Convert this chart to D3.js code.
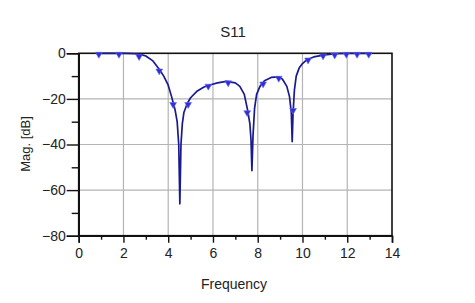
<!DOCTYPE html>
<html>
<head>
<meta charset="utf-8">
<script src="https://cdn.jsdelivr.net/npm/d3@7"></script>
<style>
  body { margin: 0; background: #fff; }
  svg { display: block; font-family: "Liberation Sans", Arial, sans-serif; }
</style>
</head>
<body>
<div id="chart"></div>
<script>
// S11 magnitude curve (freq, dB)
const freq = [0.8, 1.5, 2.0, 2.5, 2.8, 3.0, 3.3, 3.6, 3.8, 4.0, 4.15, 4.3, 4.4, 4.47, 4.52, 4.57, 4.63, 4.7, 4.85, 5.0,
  5.3, 5.6, 5.9, 6.2, 6.6, 7.0, 7.2, 7.4, 7.55, 7.65, 7.7, 7.74, 7.79, 7.86, 7.95, 8.1, 8.3, 8.6, 8.9, 9.1,
  9.3, 9.42, 9.5, 9.54, 9.58, 9.64, 9.72, 9.85, 10.0, 10.2, 10.5, 11.0, 11.5, 12.0, 12.5, 13.1];
const mag = [0, 0, 0, -0.2, -0.6, -1.2, -3.2, -7, -10, -14, -19, -24.5, -30, -40, -66, -40, -31, -26, -22, -19.5,
  -16.5, -14.8, -13.8, -13, -12.3, -13, -14.5, -18, -25, -31, -38, -51.5, -36, -24, -18, -14.5, -12, -10.6, -10.3, -11.3,
  -14.5, -19, -26, -38.8, -26, -16, -10, -6.5, -4.5, -2.8, -1.6, -0.7, -0.2, 0, 0, 0];

// triangle markers
const markerFreq = [0.9, 1.8, 2.7, 3.6, 4.22, 4.89, 5.79, 6.68, 7.53, 8.24, 8.94, 9.58, 10.25, 10.92, 11.44, 11.96, 12.44, 12.96];
const markerMag = [0, 0, -1, -7.3, -22, -22, -14, -12.5, -25.6, -13, -10.5, -24.6, -2.5, -0.7, -0.3, 0, 0, 0];

const xTicks = [0, 2, 4, 6, 8, 10, 12, 14];
const yTicks = [0, -20, -40, -60, -80];

const W = 475, H = 303;
const m = { left: 78.7, right: 83, top: 53.3, bottom: 67.3 };

const svg = d3.select("#chart").append("svg").attr("width", W).attr("height", H);

const x = d3.scaleLinear().domain([0, 14]).range([m.left, W - m.right]);
const y = d3.scaleLinear().domain([-80, 0]).range([H - m.bottom, m.top]);

// grid
svg.append("g").selectAll("line").data(xTicks.slice(1, -1)).join("line")
  .attr("x1", d => x(d)).attr("x2", d => x(d))
  .attr("y1", y(0)).attr("y2", y(-80))
  .attr("stroke", "#b4b4b4").attr("stroke-width", 1.2);
svg.append("g").selectAll("line").data(yTicks.slice(1, -1)).join("line")
  .attr("x1", x(0)).attr("x2", x(14))
  .attr("y1", d => y(d)).attr("y2", d => y(d))
  .attr("stroke", "#b4b4b4").attr("stroke-width", 1.2);

// frame
svg.append("rect")
  .attr("x", x(0)).attr("y", y(0))
  .attr("width", x(14) - x(0)).attr("height", y(-80) - y(0))
  .attr("fill", "none").attr("stroke", "#111").attr("stroke-width", 1.6);

// axes
svg.append("g").attr("transform", `translate(0,${y(-80)})`)
  .call(d3.axisBottom(x).tickValues(xTicks).tickSize(7).tickPadding(5));
svg.append("g").attr("transform", `translate(0,${y(-80)})`)
  .call(d3.axisBottom(x).tickValues(d3.range(1, 14, 2)).tickSize(4).tickFormat(""))
  .call(g => g.select(".domain").remove());
svg.append("g").attr("transform", `translate(${x(0)},0)`)
  .call(d3.axisLeft(y).tickValues(yTicks).tickSize(12).tickPadding(1));
svg.append("g").attr("transform", `translate(${x(0)},0)`)
  .call(d3.axisLeft(y).tickValues(d3.range(-70, 0, 20)).tickSize(7).tickFormat(""))
  .call(g => g.select(".domain").remove());

svg.selectAll(".tick line").attr("stroke", "#111").attr("stroke-width", 1.4);
svg.selectAll(".domain").attr("stroke", "#111").attr("stroke-width", 1.6);
svg.selectAll(".tick text").attr("font-size", 14).attr("fill", "#222")
  .attr("font-family", "'Liberation Sans', Arial, sans-serif");

// curve
const pts = freq.map((f, i) => [f, mag[i]]);
svg.append("path").datum(pts)
  .attr("fill", "none").attr("stroke", "#1a1a90").attr("stroke-width", 1.7)
  .attr("stroke-linejoin", "round")
  .attr("d", d3.line().x(d => x(d[0])).y(d => y(d[1])));

// markers
const tri = d3.symbol().type(d3.symbolTriangle).size(20);
svg.append("g").selectAll("path").data(markerFreq.map((f, i) => [f, markerMag[i]])).join("path")
  .attr("d", tri)
  .attr("transform", d => `translate(${x(d[0])},${y(d[1]) + 1}) rotate(180)`)
  .attr("fill", "#2f2fd8")
  .attr("stroke", "#6a6af0").attr("stroke-width", 0.6);

// labels
svg.append("text").attr("x", 233).attr("y", 37).attr("text-anchor", "middle")
  .attr("font-size", 15).attr("fill", "#222").text("S11");
svg.append("text").attr("x", 234).attr("y", 289).attr("text-anchor", "middle")
  .attr("font-size", 14).attr("fill", "#222").text("Frequency");
svg.append("text").attr("transform", "translate(30,144) rotate(-90)").attr("text-anchor", "middle")
  .attr("font-size", 13).attr("fill", "#222").text("Mag. [dB]");
</script>
</body>
</html>
